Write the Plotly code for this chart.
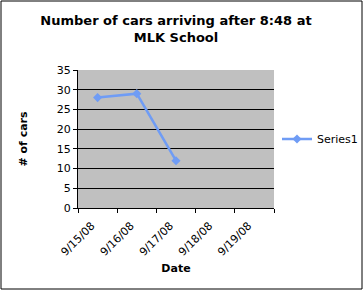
import plotly.graph_objects as go

dates = ["9/15/08", "9/16/08", "9/17/08", "9/18/08", "9/19/08"]
cars = [28, 29, 12, None, None]
series_name = "Series1"

fig = go.Figure()
fig.add_trace(go.Scatter(
    x=dates, y=cars, name=series_name, mode="lines+markers",
    line=dict(color="#6f9cf5", width=2.5),
    marker=dict(symbol="diamond", size=7, color="#6f9cf5"),
    connectgaps=False,
))

font = "DejaVu Sans, Verdana, sans-serif"
fig.update_layout(
    width=363, height=291,
    margin=dict(l=78, r=89, t=70, b=83, autoexpand=False),
    paper_bgcolor="white", plot_bgcolor="#c0c0c0",
    font=dict(family=font, size=11, color="black"),
    title=dict(text="<b>Number of cars arriving after 8:48 at<br>MLK School</b>",
               x=0.5, xref="paper", xanchor="center",
               yref="container", y=1 - 25/291, yanchor="top",
               font=dict(size=13, family=font)),
    showlegend=True,
    legend=dict(x=(277 - 78) / 196, y=0.5, xanchor="left", yanchor="middle",
                itemwidth=30, font=dict(size=11, family=font),
                bgcolor="rgba(0,0,0,0)"),
    xaxis=dict(type="category", categoryarray=dates, range=[-0.5, 4.5],
               showgrid=False, showline=True, linecolor="black", linewidth=1,
               ticks="outside", tickson="boundaries", ticklen=4, tickcolor="black",
               tickangle=-45, tickfont=dict(size=11),
               ticklabelstandoff=6, ticklabelshift=-6,
               title=dict(text="<b>Date</b>", font=dict(size=11), standoff=6),
               zeroline=False),
    yaxis=dict(range=[0, 35], dtick=5, showgrid=True, gridcolor="black", gridwidth=1,
               showline=True, linecolor="black", linewidth=1,
               ticks="outside", ticklen=4, tickcolor="black",
               tickfont=dict(size=11),
               title=dict(text="<b># of cars</b>", font=dict(size=11), standoff=26),
               zeroline=False),
    shapes=[dict(type="rect", xref="paper", yref="paper", x0=-77/196, x1=1+88/196,
                 y0=-81/138, y1=1+69/138, line=dict(color="black", width=1))],
)

fig.write_html("out.html")
